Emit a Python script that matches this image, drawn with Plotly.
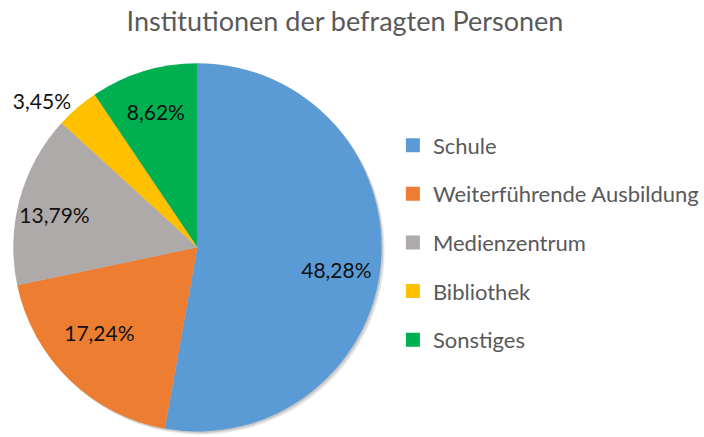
import plotly.graph_objects as go

categories = ["Schule", "Weiterführende Ausbildung", "Medienzentrum", "Bibliothek", "Sonstiges"]
values = [48.28, 17.24, 13.79, 3.45, 8.62]
colors = ["#5B9BD5", "#ED7D31", "#AEAAAA", "#FFC000", "#00B050"]
label_texts = [f"{v:.2f}%".replace(".", ",") for v in values]
text_positions = ["inside", "inside", "inside", "outside", "inside"]

FONT = "Lato, Carlito, Calibri, sans-serif"
W, H = 704, 437

# pie placement in pixels (center x, center y from top, radius)
CX, CY, R = 198, 248.5, 185


def pie_domain(dx=0.0, dy=0.0):
    x0, x1 = CX - R + dx, CX + R + dx
    ytop, ybot = CY - R + dy, CY + R + dy
    return dict(x=[max(0, x0 / W), min(1, x1 / W)],
                y=[max(0, 1 - ybot / H), min(1, 1 - ytop / H)])


# presentation: nudge labels like the original (padding only, values unchanged)
EN = "\u2002"
display_texts = list(label_texts)
display_texts[0] = "\u00A0<br>" + EN * 9 + label_texts[0]
display_texts[1] = label_texts[1] + EN * 3
display_texts[2] = label_texts[2] + EN * 4

fig = go.Figure()

# soft drop shadow under the pie
for (dx, dy, op) in [(3.0, 3.0, 0.18), (1.5, 1.5, 0.25)]:
    fig.add_trace(go.Pie(
        labels=categories, values=values, sort=False, direction="clockwise", rotation=0,
        marker=dict(colors=["#6f6f6f"] * len(values), line=dict(width=0)),
        textinfo="none", hoverinfo="skip", showlegend=False, opacity=op,
        domain=pie_domain(dx, dy),
    ))

fig.add_trace(go.Pie(
    labels=categories,
    values=values,
    text=display_texts,
    textinfo="text",
    texttemplate="%{text}",
    textposition=text_positions,
    insidetextorientation="horizontal",
    sort=False,
    direction="clockwise",
    rotation=0,
    marker=dict(colors=colors, line=dict(width=0)),
    textfont=dict(family=FONT, size=21, color="#111111"),
    showlegend=False,
    domain=pie_domain(),
    customdata=label_texts,
    hovertemplate="%{label}: %{customdata}<extra></extra>",
))

for i, (cat, col) in enumerate(zip(categories, colors)):
    fig.add_trace(go.Scatter(
        x=[None], y=[None], mode="markers",
        marker=dict(symbol="square", size=14, color=col),
        name=cat, legendgroup=f"g{i}", showlegend=True,
    ))

fig.update_layout(
    width=W, height=H,
    margin=dict(l=0, r=0, t=0, b=0),
    paper_bgcolor="white", plot_bgcolor="white",
    title=dict(text="Institutionen der befragten Personen", x=0.49, xanchor="center",
               y=1 - 22 / H, yanchor="middle",
               font=dict(family=FONT, size=27, color="#595959")),
    xaxis=dict(visible=False), yaxis=dict(visible=False),
    legend=dict(x=394 / W, y=1 - 125 / H, xanchor="left", yanchor="top",
                font=dict(family=FONT, size=22, color="#595959"),
                tracegroupgap=17, itemclick=False, bgcolor="rgba(0,0,0,0)"),
)

fig.write_html("out.html", config={"displayModeBar": False},
               post_script="document.body.style.margin='0px';")
